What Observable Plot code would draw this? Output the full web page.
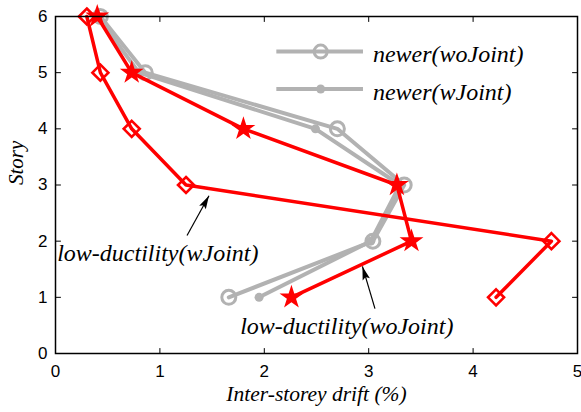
<!DOCTYPE html>
<html>
<head>
<meta charset="utf-8">
<script src="https://cdn.jsdelivr.net/npm/d3@7"></script>
<script src="https://cdn.jsdelivr.net/npm/@observablehq/plot@0.6"></script>
<style>
  body { margin: 0; background: #fff; }
  #chart svg { display: block; }
</style>
</head>
<body>
<div id="chart"></div>
<script>
// Story levels and peak inter-storey drift (%) per model
const stories = [1, 2, 3, 4, 5, 6];
const lowDuctilityWJoint  = [4.22, 4.75, 1.25, 0.73, 0.43, 0.30];
const lowDuctilityWoJoint = [2.26, 3.41, 3.27, 1.80, 0.73, 0.40];
const newerWoJoint        = [1.66, 3.04, 3.34, 2.70, 0.86, 0.43];
const newerWJoint         = [1.95, 3.02, 3.30, 2.49, 0.80, 0.40];

const xTicks = [0, 1, 2, 3, 4, 5];
const yTicks = [0, 1, 2, 3, 4, 5, 6];

const legendLabels = ["newer(woJoint)", "newer(wJoint)"];
const annotationLabels = ["low-ductility(wJoint)", "low-ductility(woJoint)"];

const toRows = (values) => stories.map((s, i) => ({story: s, drift: values[i]}));

const RED = "#ff0000";
const GRAY = "#b2b2b2";
const SANS = "'Liberation Sans', Arial, sans-serif";
const SERIF = "'Liberation Serif', 'Times New Roman', serif";

const W = 581, H = 412;
const M = {top: 16, right: 4, bottom: 59, left: 55};

// pixels per data unit, used to orient the arrowheads
const kx = (W - M.left - M.right) / 5;
const ky = (H - M.top - M.bottom) / 6;

// annotation arrows (data coordinates): tail -> tip
const arrows = [
  {x1: 1.26, y1: 2.10, x2: 1.47, y2: 2.81},
  {x1: 3.06, y1: 0.80, x2: 2.94, y2: 1.55}
];
arrows.forEach(a => {
  const dx = (a.x2 - a.x1) * kx, dy = -(a.y2 - a.y1) * ky;
  a.angle = Math.atan2(dx, -dy) * 180 / Math.PI;
});

// narrow filled arrowhead, tip at origin pointing up
const arrowHead = {
  draw(context, size) {
    const L = Math.sqrt(size);
    const w = L * 0.28;
    context.moveTo(0, 0);
    context.lineTo(w, L);
    context.lineTo(0, L * 0.82);
    context.lineTo(-w, L);
    context.closePath();
  }
};

// plain tick stroke for inward ticks
const tickShape = {
  draw(context, l) { context.moveTo(0, 0); context.lineTo(0, -l); }
};

const tickStyle = {length: 5, anchor: "start", shape: tickShape, stroke: "black", strokeWidth: 1};
const innerTicks = [
  Plot.vector(xTicks.slice(1, -1), {x: d => d, y: 0, rotate: 0, ...tickStyle}),
  Plot.vector(xTicks.slice(1, -1), {x: d => d, y: 6, rotate: 180, ...tickStyle}),
  Plot.vector(yTicks.slice(1, -1), {x: 0, y: d => d, rotate: 90, ...tickStyle}),
  Plot.vector(yTicks.slice(1, -1), {x: 5, y: d => d, rotate: -90, ...tickStyle})
];

const serifText = {fontStyle: "italic", fontFamily: SERIF, fill: "black"};

const chart = Plot.plot({
  width: W,
  height: H,
  marginTop: M.top,
  marginRight: M.right,
  marginBottom: M.bottom,
  marginLeft: M.left,
  style: {fontFamily: SANS, background: "white"},
  x: {domain: [0, 5]},
  y: {domain: [0, 6]},
  marks: [
    Plot.axisX(xTicks, {anchor: "bottom", tickSize: 0, tickPadding: 11, tickFormat: "d", fontSize: 17, label: null}),
    Plot.axisY(yTicks, {anchor: "left", tickSize: 0, tickPadding: 8, tickFormat: "d", fontSize: 17, label: null}),
    ...innerTicks,

    // newer design (gray)
    Plot.line(toRows(newerWJoint), {x: "drift", y: "story", stroke: GRAY, strokeWidth: 4}),
    Plot.dot(toRows(newerWJoint), {x: "drift", y: "story", r: 4.5, fill: GRAY}),
    Plot.line(toRows(newerWoJoint), {x: "drift", y: "story", stroke: GRAY, strokeWidth: 4}),
    Plot.dot(toRows(newerWoJoint), {x: "drift", y: "story", r: 7, stroke: GRAY, strokeWidth: 3, fill: "none"}),

    // low-ductility design (red)
    Plot.line(toRows(lowDuctilityWJoint), {x: "drift", y: "story", stroke: RED, strokeWidth: 3.5}),
    Plot.dot(toRows(lowDuctilityWJoint), {x: "drift", y: "story", symbol: "diamond2", r: 7.2, stroke: RED, strokeWidth: 2.6, fill: "none"}),
    Plot.line(toRows(lowDuctilityWoJoint), {x: "drift", y: "story", stroke: RED, strokeWidth: 3.5}),
    Plot.dot(toRows(lowDuctilityWoJoint), {x: "drift", y: "story", symbol: "star", r: 7.5, fill: RED}),

    // legend
    Plot.ruleY([5.375], {x1: 2.12, x2: 2.95, stroke: GRAY, strokeWidth: 4}),
    Plot.dot([5.375], {x: 2.54, y: d => d, r: 6.5, stroke: GRAY, strokeWidth: 3, fill: "none"}),
    Plot.ruleY([4.71], {x1: 2.12, x2: 2.95, stroke: GRAY, strokeWidth: 4}),
    Plot.dot([4.71], {x: 2.54, y: d => d, r: 4.5, fill: GRAY}),
    Plot.text(legendLabels, {x: 3.04, y: (d, i) => [5.375, 4.71][i], dy: 3, text: d => d, textAnchor: "start", fontSize: 24, ...serifText}),

    // annotations
    Plot.link(arrows, {x1: "x1", y1: "y1", x2: "x2", y2: "y2", stroke: "black", strokeWidth: 1.2}),
    Plot.dot(arrows, {x: "x2", y: "y2", symbol: arrowHead, r: 7.6, rotate: "angle", fill: "black"}),
    Plot.text([annotationLabels[0]], {x: 0.98, y: 1.79, text: d => d, fontSize: 24, ...serifText}),
    Plot.text([annotationLabels[1]], {x: 2.79, y: 0.48, text: d => d, fontSize: 24, ...serifText}),

    // axis titles
    Plot.text(["Inter-storey drift (%)"], {frameAnchor: "bottom", dy: 47, text: d => d, fontSize: 21.5, ...serifText}),
    Plot.text(["Story"], {frameAnchor: "left", dx: -39.5, rotate: -90, text: d => d, fontSize: 21, ...serifText}),

    Plot.frame({stroke: "black", strokeWidth: 1.5})
  ]
});

document.getElementById("chart").appendChild(chart);
</script>
</body>
</html>
